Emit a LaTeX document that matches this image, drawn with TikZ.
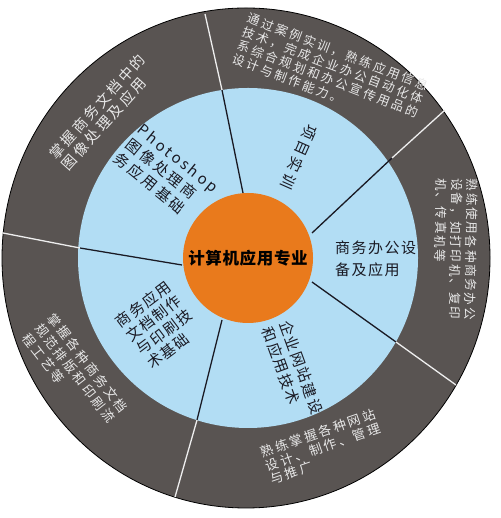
\documentclass[tikz,border=0pt]{standalone}
\usepackage{fontspec}
\newfontfamily\cjk{Noto Sans CJK SC}
\newcommand\cjkset[3]{\cjk\fontsize{#1}{#2}\selectfont\addfontfeature{LetterSpace=#3}}
\definecolor{ringgray}{RGB}{89,84,82}
\definecolor{discblue}{RGB}{178,221,244}
\definecolor{coreorange}{RGB}{233,122,28}
\definecolor{ringtext}{RGB}{232,232,232}
\definecolor{disctext}{RGB}{25,25,35}
\begin{document}
\begin{tikzpicture}[
    x=1pt, y=1pt,
    ring label/.style={text=ringtext, align=left, inner sep=0pt},
    disc label/.style={text=disctext, align=left, inner sep=0pt},
    spoke in/.style={draw=disctext, line width=1.3pt},
    spoke out/.style={draw=white!90!ringgray, line width=1.3pt},
    core/.style={circle, fill=coreorange, minimum size=130pt, inner sep=0pt, text=black}
]
\useasboundingbox (0,0) rectangle (500,518);
% rings
\filldraw[fill=ringgray, draw=black, line width=0.8pt] (246,260) ellipse [x radius=244, y radius=250];
\fill[discblue] (248,260) circle [radius=170];
% spokes
\coordinate (s1a) at (243,325); \coordinate (s1b) at (222,428); \coordinate (s1c) at (205,504);
\coordinate (s2a) at (312,285); \coordinate (s2b) at (392,360); \coordinate (s2c) at (445,408);
\coordinate (s3a) at (312,236); \coordinate (s3b) at (396,176); \coordinate (s3c) at (456,133);
\coordinate (s4a) at (222,198); \coordinate (s4b) at (197,98);  \coordinate (s4c) at (175,21);
\coordinate (s5a) at (182,253); \coordinate (s5b) at (80,270);  \coordinate (s5c) at (3,285);
\foreach \s in {1,...,5} {
    \draw[spoke in] (s\s a) -- (s\s b);
    \draw[spoke out] (s\s b) -- (s\s c);
}
\node[core, font={\cjkset{16.5}{20}{4}\bfseries}] (major) at (248,260) {计算机应用专业};
% inner disc
\node[disc label, rotate=-114, font=\cjkset{15}{19}{18}] (xmsx) at (299,361) {项目实训};
\node[disc label, anchor=west, font=\cjkset{15}{22}{10}] (swbg) at (335,259) {商务办公设\\备及应用};
\node[disc label, rotate=-70, font=\cjkset{15}{18.5}{10}] (qywz) at (292.5,147.5) {企业网站建设\\和应用技术};
\node[disc label, rotate=37, font=\cjkset{15}{17.5}{10}] (swwd) at (159,193) {商务应用\\文档制作\\与印刷技\\术基础};
\node[disc label, rotate=-39, font=\cjkset{15}{18.5}{18}] (pstx) at (166,345) {Photoshop\\图像处理商\\务应用基础};
% outer ring
\node[ring label, rotate=-21, font=\cjkset{12.5}{14.5}{20}] (sjnl) at (330.5,446) {通过案例实训，熟练应用信息\\技术，完成企业办公自动化体\\系综合规划和办公宣传用品的\\设计与制作能力。};
\node[ring label, rotate=48, font=\cjkset{14.5}{16.5}{18}] (txcl) at (103.5,406) {掌握商务文档中的\\图像处理及应用};
\node[ring label, rotate=-91, font=\cjkset{12.5}{15.5}{14}] (bgsb) at (456,269) {熟练使用各种商务办公\\设备，如打印机、复印\\机、传真机等};
\node[ring label, rotate=-52, font=\cjkset{13}{16}{18}] (pbys) at (75,145) {掌握各种商务文档\\规范排版和印刷流\\程工艺等};
\node[ring label, rotate=19, font=\cjkset{13}{14.5}{18}] (wzsj) at (323,71) {熟练掌握各种网站\\设计、制作、管理\\与推广};
\end{tikzpicture}
\end{document}
